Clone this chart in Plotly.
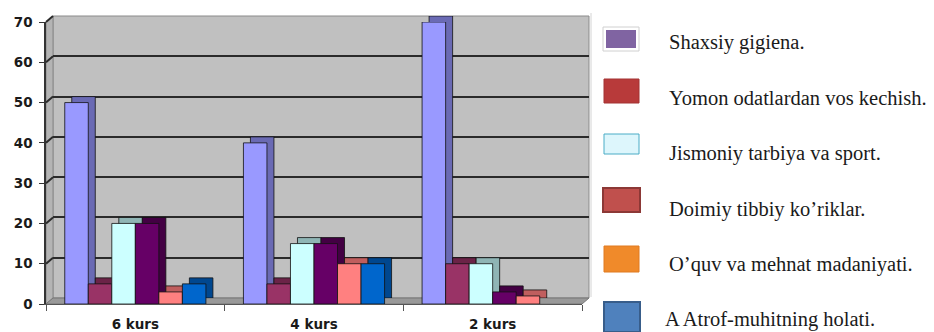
import plotly.graph_objects as go

# ---------------- data ----------------
categories = ["6 kurs", "4 kurs", "2 kurs"]
series_names = [
    "Shaxsiy gigiena.",
    "Yomon odatlardan vos kechish.",
    "Jismoniy tarbiya va sport.",
    "Doimiy tibbiy ko\u2019riklar.",
    "O\u2019quv va mehnat madaniyati.",
    "A Atrof-muhitning holati.",
]
shaxsiy_gigiena = [50, 40, 70]
yomon_odatlar = [5, 5, 10]
jismoniy_tarbiya = [20, 15, 10]
doimiy_tibbiy = [20, 15, 3]
oquv_mehnat = [3, 10, 2]
atrof_muhit = [5, 10, 0]
y_ticks = [0, 10, 20, 30, 40, 50, 60, 70]

series_values = [shaxsiy_gigiena, yomon_odatlar, jismoniy_tarbiya,
                 doimiy_tibbiy, oquv_mehnat, atrof_muhit]

# ---------------- styles ----------------
bar_colors = ["#9999FF", "#993366", "#CCFFFF", "#660066", "#FF8080", "#0066CC"]
depth_colors = ["#6A6AB4", "#6B2347", "#8FB5B5", "#430043", "#C05E5E", "#00478F"]
legend_fill = ["#8064A2", "#B83A3A", "#DDF6FC", "#C0504D", "#F08A2A", "#4F81BD"]
legend_line = ["#FFFFFF", "#A33333", "#4BACC6", "#8C3836", "#E07A20", "#385D8A"]

W, H = 934, 332
L, R, T, B = 46, 589, 16, 304  # paper area in pixels
DX, DY = 7, 6                  # 3-D depth offset


def px_x(px):
    return (px - L) / (R - L)


def px_y(py):
    return (B - py) / (B - T)


fig = go.Figure()


def outline(vals):
    return [0 if v == 0 else 0.8 for v in vals]


# depth faces (drawn on the shifted "back" axes)
for name, vals, col in zip(series_names, series_values, depth_colors):
    fig.add_trace(go.Bar(
        x=categories, y=vals, name=name, xaxis="x", yaxis="y",
        marker=dict(color=col, line=dict(color="#111111", width=outline(vals))),
        showlegend=False, hoverinfo="skip",
    ))

# front faces
for name, vals, col in zip(series_names, series_values, bar_colors):
    fig.add_trace(go.Bar(
        x=categories, y=vals, name=name, xaxis="x2", yaxis="y2",
        marker=dict(color=col, line=dict(color="#111111", width=outline(vals))),
        showlegend=False,
    ))

shapes = []
# walls of the 3-D box
fx0, fx1, fy0, fy1 = L, R - DX, B, T + DY          # front rectangle
bx0, bx1, by0, by1 = L + DX, R, B - DY, T          # back rectangle


def P(x, y):
    return f"{px_x(x):.5f},{px_y(y):.5f}"


shapes.append(dict(type="path", xref="paper", yref="paper", layer="below",
                   path=f"M{P(bx0, by0)} L{P(bx0, by1)} L{P(bx1, by1)} L{P(bx1, by0)} Z",
                   fillcolor="#C0C0C0", line=dict(color="#8A8A8A", width=1)))
shapes.append(dict(type="path", xref="paper", yref="paper", layer="below",
                   path=f"M{P(fx0, fy0)} L{P(fx0, fy1)} L{P(bx0, by1)} L{P(bx0, by0)} Z",
                   fillcolor="#B4B4B4", line=dict(color="#8A8A8A", width=1)))
shapes.append(dict(type="path", xref="paper", yref="paper", layer="below",
                   path=f"M{P(fx0, fy0)} L{P(bx0, by0)} L{P(bx1, by0)} L{P(fx1, fy0)} Z",
                   fillcolor="#999999", line=dict(color="#777777", width=1)))
# gridlines on left side wall
for v in y_ticks[1:]:
    yy = fy0 - (fy0 - fy1) * v / 70.0
    shapes.append(dict(type="line", xref="paper", yref="paper", layer="below",
                       x0=px_x(fx0), y0=px_y(yy), x1=px_x(bx0), y1=px_y(yy - DY),
                       line=dict(color="#2B2B2B", width=2)))

# faint separator line
shapes.append(dict(type="line", xref="paper", yref="paper",
                   x0=px_x(591), x1=px_x(591), y0=px_y(13), y1=px_y(297),
                   line=dict(color="#D4D4D4", width=1)))

# legend boxes
box_rows = [(603, 639, 27, 51), (604, 639, 79, 103), (604, 639, 134, 154),
            (603, 640, 188, 212), (604, 639, 246, 272), (604, 640, 302, 332)]
text_rows = [42, 98, 153, 209, 264, 319]
text_x = [667, 667, 667, 667, 667, 663]
annotations = []
for i, (x0, x1, y0, y1) in enumerate(box_rows):
    if i == 0:
        shapes.append(dict(type="rect", xref="paper", yref="paper",
                           x0=px_x(x0), x1=px_x(x1), y0=px_y(y1), y1=px_y(y0),
                           fillcolor="#FFFFFF", line=dict(color="#D0D0D0", width=1)))
        shapes.append(dict(type="rect", xref="paper", yref="paper",
                           x0=px_x(x0 + 3), x1=px_x(x1 - 3), y0=px_y(y1 - 3), y1=px_y(y0 + 3),
                           fillcolor=legend_fill[i], line=dict(width=0)))
    else:
        shapes.append(dict(type="rect", xref="paper", yref="paper",
                           x0=px_x(x0), x1=px_x(x1), y0=px_y(y1), y1=px_y(y0),
                           fillcolor=legend_fill[i],
                           line=dict(color=legend_line[i], width=2 if i in (3, 5) else 1)))
    annotations.append(dict(
        text=series_names[i], xref="paper", yref="paper",
        x=px_x(text_x[i]), y=px_y(text_rows[i]), xanchor="left", yanchor="middle",
        showarrow=False,
        font=dict(family="Liberation Serif, Times New Roman, serif",
                  size=20.5, color="#1A1A1A"),
    ))

tick_font = dict(family="DejaVu Sans", size=13.5, color="#1A1A1A", weight="bold")

fig.update_layout(
    width=W, height=H, autosize=False,
    margin=dict(l=L, r=W - R, t=T, b=H - B, pad=0, autoexpand=False),
    paper_bgcolor="#FFFFFF", plot_bgcolor="rgba(0,0,0,0)",
    barmode="group", bargap=0.21, bargroupgap=0,
    shapes=shapes, annotations=annotations,
    showlegend=False,
    # back (depth) axes
    xaxis=dict(domain=[px_x(bx0), 1], anchor="y", type="category",
               showgrid=False, showticklabels=False, ticks="", showline=False,
               zeroline=False, fixedrange=True, automargin=False),
    yaxis=dict(domain=[px_y(by0), 1], anchor="x", range=[0, 70],
               tickvals=y_ticks, showgrid=True, gridcolor="#2B2B2B", gridwidth=2,
               showticklabels=False, ticks="", showline=False, zeroline=False,
               fixedrange=True, automargin=False),
    # front axes
    xaxis2=dict(domain=[0, px_x(fx1)], anchor="y2", type="category",
                showgrid=False, tickson="boundaries", ticks="outside", ticklen=6,
                tickcolor="#555555", showline=True, linecolor="#555555", linewidth=1,
                tickfont=tick_font, zeroline=False, fixedrange=True,
                ticklabelstandoff=8, automargin=False),
    yaxis2=dict(domain=[0, px_y(fy1)], anchor="x2", range=[0, 70],
                tickvals=y_ticks, showgrid=False, ticks="outside", ticklen=5,
                tickcolor="#333333", showline=True, linecolor="#333333", linewidth=1.5,
                tickfont=tick_font, zeroline=False, fixedrange=True,
                ticklabelstandoff=4, automargin=False),
)

fig.write_html("out.html")
